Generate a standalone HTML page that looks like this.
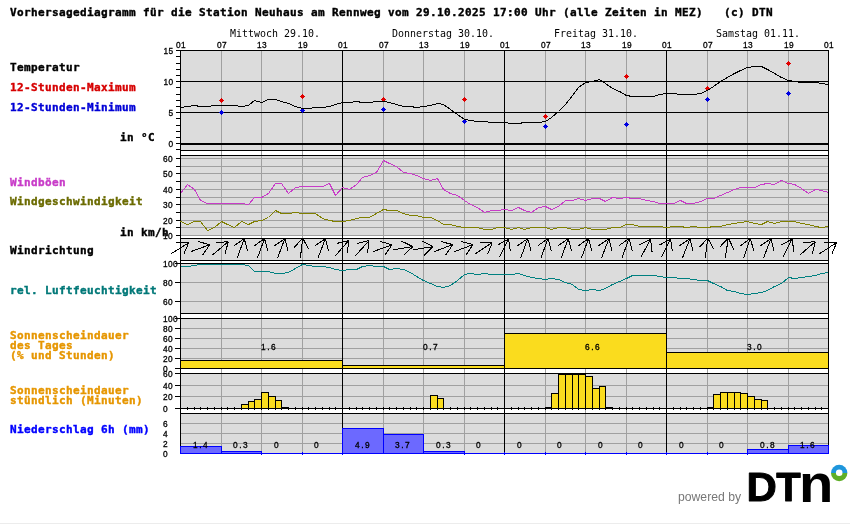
<!DOCTYPE html>
<html lang="de"><head><meta charset="utf-8"><title>Vorhersagediagramm Neuhaus am Rennweg</title>
<style>
html,body{margin:0;padding:0;background:#fff;}
body{width:850px;height:524px;overflow:hidden;position:relative;}
svg{display:block;position:absolute;left:0;top:0;}
.b{font-family:"DejaVu Sans Mono","Liberation Mono",monospace;font-weight:bold;font-size:11px;letter-spacing:0.3775px;white-space:pre;stroke-width:0.4px;}
.m{font-family:"DejaVu Sans Mono","Liberation Mono",monospace;font-size:9.966px;white-space:pre;fill:#000;}
.t{font-family:"Liberation Sans","DejaVu Sans",sans-serif;font-size:8.3px;white-space:pre;fill:#000;stroke:#000;stroke-width:0.3px;}
.pw{font-family:"Liberation Sans","DejaVu Sans",sans-serif;font-size:12.2px;fill:#777;}
.lg{font-family:"Liberation Sans","DejaVu Sans",sans-serif;font-weight:bold;fill:#000;}
</style></head><body>
<svg width="850" height="524" viewBox="0 0 850 524">
<rect x="0" y="0" width="850" height="524" fill="#fff"/>
<g shape-rendering="crispEdges">
<rect x="181" y="51" width="647" height="99" fill="#dcdcdc"/>
<rect x="181" y="156" width="647" height="80" fill="#dcdcdc"/>
<rect x="181" y="239" width="647" height="21" fill="#dcdcdc"/>
<rect x="181" y="264" width="647" height="49" fill="#dcdcdc"/>
<rect x="181" y="319" width="647" height="49" fill="#dcdcdc"/>
<rect x="181" y="374" width="647" height="34" fill="#dcdcdc"/>
<rect x="181" y="414" width="647" height="39" fill="#dcdcdc"/>
<rect x="181" y="158" width="647" height="1" fill="#a0a0a0"/>
<rect x="181" y="166" width="647" height="1" fill="#a0a0a0"/>
<rect x="181" y="173" width="647" height="1" fill="#a0a0a0"/>
<rect x="181" y="181" width="647" height="1" fill="#a0a0a0"/>
<rect x="181" y="189" width="647" height="1" fill="#a0a0a0"/>
<rect x="181" y="197" width="647" height="1" fill="#a0a0a0"/>
<rect x="181" y="204" width="647" height="1" fill="#a0a0a0"/>
<rect x="181" y="212" width="647" height="1" fill="#a0a0a0"/>
<rect x="181" y="220" width="647" height="1" fill="#a0a0a0"/>
<rect x="181" y="227" width="647" height="1" fill="#a0a0a0"/>
<rect x="181" y="235" width="647" height="1" fill="#a0a0a0"/>
<rect x="181" y="282" width="647" height="1" fill="#a0a0a0"/>
<rect x="181" y="301" width="647" height="1" fill="#a0a0a0"/>
<rect x="181" y="328" width="647" height="1" fill="#a0a0a0"/>
<rect x="181" y="338" width="647" height="1" fill="#a0a0a0"/>
<rect x="181" y="348" width="647" height="1" fill="#a0a0a0"/>
<rect x="181" y="358" width="647" height="1" fill="#a0a0a0"/>
<rect x="181" y="385" width="647" height="1" fill="#a0a0a0"/>
<rect x="181" y="396" width="647" height="1" fill="#a0a0a0"/>
<rect x="181" y="423" width="647" height="1" fill="#a0a0a0"/>
<rect x="181" y="433" width="647" height="1" fill="#a0a0a0"/>
<rect x="181" y="443" width="647" height="1" fill="#a0a0a0"/>
<rect x="221" y="50" width="1" height="404" fill="#a0a0a0"/>
<rect x="261" y="50" width="1" height="404" fill="#a0a0a0"/>
<rect x="302" y="50" width="1" height="404" fill="#a0a0a0"/>
<rect x="383" y="50" width="1" height="404" fill="#a0a0a0"/>
<rect x="423" y="50" width="1" height="404" fill="#a0a0a0"/>
<rect x="464" y="50" width="1" height="404" fill="#a0a0a0"/>
<rect x="545" y="50" width="1" height="404" fill="#a0a0a0"/>
<rect x="585" y="50" width="1" height="404" fill="#a0a0a0"/>
<rect x="626" y="50" width="1" height="404" fill="#a0a0a0"/>
<rect x="707" y="50" width="1" height="404" fill="#a0a0a0"/>
<rect x="747" y="50" width="1" height="404" fill="#a0a0a0"/>
<rect x="788" y="50" width="1" height="404" fill="#a0a0a0"/>
<rect x="180" y="50" width="649" height="1" fill="#000"/>
<rect x="180" y="81" width="649" height="1" fill="#000"/>
<rect x="180" y="112" width="649" height="1" fill="#000"/>
<rect x="180" y="150" width="649" height="1" fill="#000"/>
<rect x="180" y="155" width="649" height="1" fill="#000"/>
<rect x="180" y="238" width="649" height="1" fill="#000"/>
<rect x="180" y="260" width="649" height="1" fill="#000"/>
<rect x="180" y="263" width="649" height="1" fill="#000"/>
<rect x="180" y="313" width="649" height="1" fill="#000"/>
<rect x="180" y="318" width="649" height="1" fill="#000"/>
<rect x="180" y="368" width="649" height="1" fill="#000"/>
<rect x="180" y="373" width="649" height="1" fill="#000"/>
<rect x="180" y="408" width="649" height="1" fill="#000"/>
<rect x="180" y="413" width="649" height="1" fill="#000"/>
<rect x="180" y="143" width="649" height="2" fill="#000"/>
<rect x="180" y="50" width="1" height="404" fill="#000"/>
<rect x="342" y="50" width="1" height="404" fill="#000"/>
<rect x="504" y="50" width="1" height="404" fill="#000"/>
<rect x="666" y="50" width="1" height="404" fill="#000"/>
<rect x="828" y="50" width="1" height="404" fill="#000"/>
<rect x="176" y="149" width="4" height="1" fill="#000"/>
<rect x="176" y="143" width="4" height="1" fill="#000"/>
<rect x="176" y="137" width="4" height="1" fill="#000"/>
<rect x="176" y="131" width="4" height="1" fill="#000"/>
<rect x="176" y="125" width="4" height="1" fill="#000"/>
<rect x="176" y="118" width="4" height="1" fill="#000"/>
<rect x="176" y="112" width="4" height="1" fill="#000"/>
<rect x="176" y="106" width="4" height="1" fill="#000"/>
<rect x="176" y="100" width="4" height="1" fill="#000"/>
<rect x="176" y="94" width="4" height="1" fill="#000"/>
<rect x="176" y="87" width="4" height="1" fill="#000"/>
<rect x="176" y="81" width="4" height="1" fill="#000"/>
<rect x="176" y="75" width="4" height="1" fill="#000"/>
<rect x="176" y="69" width="4" height="1" fill="#000"/>
<rect x="176" y="63" width="4" height="1" fill="#000"/>
<rect x="176" y="56" width="4" height="1" fill="#000"/>
<rect x="176" y="50" width="4" height="1" fill="#000"/>
<rect x="176" y="158" width="4" height="1" fill="#000"/>
<rect x="176" y="166" width="4" height="1" fill="#000"/>
<rect x="176" y="173" width="4" height="1" fill="#000"/>
<rect x="176" y="181" width="4" height="1" fill="#000"/>
<rect x="176" y="189" width="4" height="1" fill="#000"/>
<rect x="176" y="197" width="4" height="1" fill="#000"/>
<rect x="176" y="204" width="4" height="1" fill="#000"/>
<rect x="176" y="212" width="4" height="1" fill="#000"/>
<rect x="176" y="220" width="4" height="1" fill="#000"/>
<rect x="176" y="227" width="4" height="1" fill="#000"/>
<rect x="176" y="235" width="4" height="1" fill="#000"/>
<rect x="175" y="263" width="5" height="1" fill="#000"/>
<rect x="175" y="282" width="5" height="1" fill="#000"/>
<rect x="175" y="301" width="5" height="1" fill="#000"/>
<rect x="175" y="318" width="5" height="1" fill="#000"/>
<rect x="175" y="328" width="5" height="1" fill="#000"/>
<rect x="175" y="338" width="5" height="1" fill="#000"/>
<rect x="175" y="348" width="5" height="1" fill="#000"/>
<rect x="175" y="358" width="5" height="1" fill="#000"/>
<rect x="175" y="368" width="5" height="1" fill="#000"/>
<rect x="175" y="373" width="5" height="1" fill="#000"/>
<rect x="175" y="385" width="5" height="1" fill="#000"/>
<rect x="175" y="396" width="5" height="1" fill="#000"/>
<rect x="175" y="408" width="5" height="1" fill="#000"/>
<rect x="187" y="407" width="1" height="3" fill="#000"/>
<rect x="194" y="407" width="1" height="3" fill="#000"/>
<rect x="200" y="407" width="1" height="3" fill="#000"/>
<rect x="207" y="407" width="1" height="3" fill="#000"/>
<rect x="214" y="407" width="1" height="3" fill="#000"/>
<rect x="221" y="407" width="1" height="3" fill="#000"/>
<rect x="227" y="407" width="1" height="3" fill="#000"/>
<rect x="234" y="407" width="1" height="3" fill="#000"/>
<rect x="241" y="407" width="1" height="3" fill="#000"/>
<rect x="248" y="407" width="1" height="3" fill="#000"/>
<rect x="254" y="407" width="1" height="3" fill="#000"/>
<rect x="261" y="407" width="1" height="3" fill="#000"/>
<rect x="268" y="407" width="1" height="3" fill="#000"/>
<rect x="275" y="407" width="1" height="3" fill="#000"/>
<rect x="281" y="407" width="1" height="3" fill="#000"/>
<rect x="288" y="407" width="1" height="3" fill="#000"/>
<rect x="295" y="407" width="1" height="3" fill="#000"/>
<rect x="302" y="407" width="1" height="3" fill="#000"/>
<rect x="308" y="407" width="1" height="3" fill="#000"/>
<rect x="315" y="407" width="1" height="3" fill="#000"/>
<rect x="322" y="407" width="1" height="3" fill="#000"/>
<rect x="329" y="407" width="1" height="3" fill="#000"/>
<rect x="335" y="407" width="1" height="3" fill="#000"/>
<rect x="342" y="407" width="1" height="3" fill="#000"/>
<rect x="349" y="407" width="1" height="3" fill="#000"/>
<rect x="356" y="407" width="1" height="3" fill="#000"/>
<rect x="362" y="407" width="1" height="3" fill="#000"/>
<rect x="369" y="407" width="1" height="3" fill="#000"/>
<rect x="376" y="407" width="1" height="3" fill="#000"/>
<rect x="383" y="407" width="1" height="3" fill="#000"/>
<rect x="389" y="407" width="1" height="3" fill="#000"/>
<rect x="396" y="407" width="1" height="3" fill="#000"/>
<rect x="403" y="407" width="1" height="3" fill="#000"/>
<rect x="410" y="407" width="1" height="3" fill="#000"/>
<rect x="416" y="407" width="1" height="3" fill="#000"/>
<rect x="423" y="407" width="1" height="3" fill="#000"/>
<rect x="430" y="407" width="1" height="3" fill="#000"/>
<rect x="437" y="407" width="1" height="3" fill="#000"/>
<rect x="443" y="407" width="1" height="3" fill="#000"/>
<rect x="450" y="407" width="1" height="3" fill="#000"/>
<rect x="457" y="407" width="1" height="3" fill="#000"/>
<rect x="464" y="407" width="1" height="3" fill="#000"/>
<rect x="470" y="407" width="1" height="3" fill="#000"/>
<rect x="477" y="407" width="1" height="3" fill="#000"/>
<rect x="484" y="407" width="1" height="3" fill="#000"/>
<rect x="491" y="407" width="1" height="3" fill="#000"/>
<rect x="497" y="407" width="1" height="3" fill="#000"/>
<rect x="504" y="407" width="1" height="3" fill="#000"/>
<rect x="511" y="407" width="1" height="3" fill="#000"/>
<rect x="518" y="407" width="1" height="3" fill="#000"/>
<rect x="524" y="407" width="1" height="3" fill="#000"/>
<rect x="531" y="407" width="1" height="3" fill="#000"/>
<rect x="538" y="407" width="1" height="3" fill="#000"/>
<rect x="545" y="407" width="1" height="3" fill="#000"/>
<rect x="551" y="407" width="1" height="3" fill="#000"/>
<rect x="558" y="407" width="1" height="3" fill="#000"/>
<rect x="565" y="407" width="1" height="3" fill="#000"/>
<rect x="572" y="407" width="1" height="3" fill="#000"/>
<rect x="578" y="407" width="1" height="3" fill="#000"/>
<rect x="585" y="407" width="1" height="3" fill="#000"/>
<rect x="592" y="407" width="1" height="3" fill="#000"/>
<rect x="599" y="407" width="1" height="3" fill="#000"/>
<rect x="605" y="407" width="1" height="3" fill="#000"/>
<rect x="612" y="407" width="1" height="3" fill="#000"/>
<rect x="619" y="407" width="1" height="3" fill="#000"/>
<rect x="626" y="407" width="1" height="3" fill="#000"/>
<rect x="632" y="407" width="1" height="3" fill="#000"/>
<rect x="639" y="407" width="1" height="3" fill="#000"/>
<rect x="646" y="407" width="1" height="3" fill="#000"/>
<rect x="653" y="407" width="1" height="3" fill="#000"/>
<rect x="659" y="407" width="1" height="3" fill="#000"/>
<rect x="666" y="407" width="1" height="3" fill="#000"/>
<rect x="673" y="407" width="1" height="3" fill="#000"/>
<rect x="680" y="407" width="1" height="3" fill="#000"/>
<rect x="686" y="407" width="1" height="3" fill="#000"/>
<rect x="693" y="407" width="1" height="3" fill="#000"/>
<rect x="700" y="407" width="1" height="3" fill="#000"/>
<rect x="707" y="407" width="1" height="3" fill="#000"/>
<rect x="713" y="407" width="1" height="3" fill="#000"/>
<rect x="720" y="407" width="1" height="3" fill="#000"/>
<rect x="727" y="407" width="1" height="3" fill="#000"/>
<rect x="734" y="407" width="1" height="3" fill="#000"/>
<rect x="740" y="407" width="1" height="3" fill="#000"/>
<rect x="747" y="407" width="1" height="3" fill="#000"/>
<rect x="754" y="407" width="1" height="3" fill="#000"/>
<rect x="761" y="407" width="1" height="3" fill="#000"/>
<rect x="767" y="407" width="1" height="3" fill="#000"/>
<rect x="774" y="407" width="1" height="3" fill="#000"/>
<rect x="781" y="407" width="1" height="3" fill="#000"/>
<rect x="788" y="407" width="1" height="3" fill="#000"/>
<rect x="794" y="407" width="1" height="3" fill="#000"/>
<rect x="801" y="407" width="1" height="3" fill="#000"/>
<rect x="808" y="407" width="1" height="3" fill="#000"/>
<rect x="815" y="407" width="1" height="3" fill="#000"/>
<rect x="821" y="407" width="1" height="3" fill="#000"/>
<rect x="221" y="98" width="1" height="1" fill="#e00000"/>
<rect x="220" y="99" width="3" height="1" fill="#e00000"/>
<rect x="219" y="100" width="5" height="1" fill="#e00000"/>
<rect x="220" y="101" width="3" height="1" fill="#e00000"/>
<rect x="221" y="102" width="1" height="1" fill="#e00000"/>
<rect x="221" y="110" width="1" height="1" fill="#0000e0"/>
<rect x="220" y="111" width="3" height="1" fill="#0000e0"/>
<rect x="219" y="112" width="5" height="1" fill="#0000e0"/>
<rect x="220" y="113" width="3" height="1" fill="#0000e0"/>
<rect x="221" y="114" width="1" height="1" fill="#0000e0"/>
<rect x="302" y="94" width="1" height="1" fill="#e00000"/>
<rect x="301" y="95" width="3" height="1" fill="#e00000"/>
<rect x="300" y="96" width="5" height="1" fill="#e00000"/>
<rect x="301" y="97" width="3" height="1" fill="#e00000"/>
<rect x="302" y="98" width="1" height="1" fill="#e00000"/>
<rect x="302" y="108" width="1" height="1" fill="#0000e0"/>
<rect x="301" y="109" width="3" height="1" fill="#0000e0"/>
<rect x="300" y="110" width="5" height="1" fill="#0000e0"/>
<rect x="301" y="111" width="3" height="1" fill="#0000e0"/>
<rect x="302" y="112" width="1" height="1" fill="#0000e0"/>
<rect x="383" y="97" width="1" height="1" fill="#e00000"/>
<rect x="382" y="98" width="3" height="1" fill="#e00000"/>
<rect x="381" y="99" width="5" height="1" fill="#e00000"/>
<rect x="382" y="100" width="3" height="1" fill="#e00000"/>
<rect x="383" y="101" width="1" height="1" fill="#e00000"/>
<rect x="383" y="107" width="1" height="1" fill="#0000e0"/>
<rect x="382" y="108" width="3" height="1" fill="#0000e0"/>
<rect x="381" y="109" width="5" height="1" fill="#0000e0"/>
<rect x="382" y="110" width="3" height="1" fill="#0000e0"/>
<rect x="383" y="111" width="1" height="1" fill="#0000e0"/>
<rect x="464" y="97" width="1" height="1" fill="#e00000"/>
<rect x="463" y="98" width="3" height="1" fill="#e00000"/>
<rect x="462" y="99" width="5" height="1" fill="#e00000"/>
<rect x="463" y="100" width="3" height="1" fill="#e00000"/>
<rect x="464" y="101" width="1" height="1" fill="#e00000"/>
<rect x="464" y="119" width="1" height="1" fill="#0000e0"/>
<rect x="463" y="120" width="3" height="1" fill="#0000e0"/>
<rect x="462" y="121" width="5" height="1" fill="#0000e0"/>
<rect x="463" y="122" width="3" height="1" fill="#0000e0"/>
<rect x="464" y="123" width="1" height="1" fill="#0000e0"/>
<rect x="545" y="114" width="1" height="1" fill="#e00000"/>
<rect x="544" y="115" width="3" height="1" fill="#e00000"/>
<rect x="543" y="116" width="5" height="1" fill="#e00000"/>
<rect x="544" y="117" width="3" height="1" fill="#e00000"/>
<rect x="545" y="118" width="1" height="1" fill="#e00000"/>
<rect x="545" y="124" width="1" height="1" fill="#0000e0"/>
<rect x="544" y="125" width="3" height="1" fill="#0000e0"/>
<rect x="543" y="126" width="5" height="1" fill="#0000e0"/>
<rect x="544" y="127" width="3" height="1" fill="#0000e0"/>
<rect x="545" y="128" width="1" height="1" fill="#0000e0"/>
<rect x="626" y="74" width="1" height="1" fill="#e00000"/>
<rect x="625" y="75" width="3" height="1" fill="#e00000"/>
<rect x="624" y="76" width="5" height="1" fill="#e00000"/>
<rect x="625" y="77" width="3" height="1" fill="#e00000"/>
<rect x="626" y="78" width="1" height="1" fill="#e00000"/>
<rect x="626" y="122" width="1" height="1" fill="#0000e0"/>
<rect x="625" y="123" width="3" height="1" fill="#0000e0"/>
<rect x="624" y="124" width="5" height="1" fill="#0000e0"/>
<rect x="625" y="125" width="3" height="1" fill="#0000e0"/>
<rect x="626" y="126" width="1" height="1" fill="#0000e0"/>
<rect x="707" y="86" width="1" height="1" fill="#e00000"/>
<rect x="706" y="87" width="3" height="1" fill="#e00000"/>
<rect x="705" y="88" width="5" height="1" fill="#e00000"/>
<rect x="706" y="89" width="3" height="1" fill="#e00000"/>
<rect x="707" y="90" width="1" height="1" fill="#e00000"/>
<rect x="707" y="97" width="1" height="1" fill="#0000e0"/>
<rect x="706" y="98" width="3" height="1" fill="#0000e0"/>
<rect x="705" y="99" width="5" height="1" fill="#0000e0"/>
<rect x="706" y="100" width="3" height="1" fill="#0000e0"/>
<rect x="707" y="101" width="1" height="1" fill="#0000e0"/>
<rect x="788" y="61" width="1" height="1" fill="#e00000"/>
<rect x="787" y="62" width="3" height="1" fill="#e00000"/>
<rect x="786" y="63" width="5" height="1" fill="#e00000"/>
<rect x="787" y="64" width="3" height="1" fill="#e00000"/>
<rect x="788" y="65" width="1" height="1" fill="#e00000"/>
<rect x="788" y="91" width="1" height="1" fill="#0000e0"/>
<rect x="787" y="92" width="3" height="1" fill="#0000e0"/>
<rect x="786" y="93" width="5" height="1" fill="#0000e0"/>
<rect x="787" y="94" width="3" height="1" fill="#0000e0"/>
<rect x="788" y="95" width="1" height="1" fill="#0000e0"/>
<polyline points="180.5,107.5 187.5,106.5 194.5,105.5 200.5,106.5 207.5,106.5 214.5,105.5 221.5,105.5 227.5,105.5 234.5,105.5 241.5,106.5 248.5,105.5 254.5,100.5 261.5,102.5 268.5,99.5 275.5,99.5 281.5,101.5 288.5,103.5 295.5,106.5 302.5,108.5 308.5,108.5 315.5,107.5 322.5,107.5 329.5,106.5 335.5,104.5 342.5,102.5 349.5,102.5 356.5,101.5 362.5,102.5 369.5,102.5 376.5,101.5 383.5,101.5 389.5,102.5 396.5,104.5 403.5,106.5 410.5,106.5 416.5,107.5 423.5,106.5 430.5,105.5 437.5,103.5 443.5,104.5 450.5,109.5 457.5,114.5 464.5,119.5 470.5,120.5 477.5,121.5 484.5,121.5 491.5,122.5 497.5,122.5 504.5,122.5 511.5,123.5 518.5,123.5 524.5,122.5 531.5,122.5 538.5,122.5 545.5,121.5 551.5,117.5 558.5,111.5 565.5,104.5 572.5,95.5 578.5,87.5 585.5,82.5 592.5,81.5 599.5,79.5 605.5,83.5 612.5,88.5 619.5,91.5 626.5,95.5 632.5,96.5 639.5,96.5 646.5,96.5 653.5,96.5 659.5,94.5 666.5,93.5 673.5,93.5 680.5,94.5 686.5,94.5 693.5,94.5 700.5,93.5 707.5,90.5 713.5,86.5 720.5,81.5 727.5,77.5 734.5,73.5 740.5,70.5 747.5,67.5 754.5,66.5 761.5,66.5 767.5,69.5 774.5,73.5 781.5,77.5 788.5,80.5 794.5,81.5 801.5,82.5 808.5,82.5 815.5,82.5 821.5,83.5 828.5,84.5" fill="none" stroke="#000" stroke-width="1"/>
<polyline points="180.5,193.5 187.5,184.5 194.5,189.5 200.5,200.5 207.5,203.5 214.5,203.5 221.5,203.5 227.5,203.5 234.5,203.5 241.5,203.5 248.5,204.5 254.5,197.5 261.5,197.5 268.5,193.5 275.5,183.5 281.5,183.5 288.5,193.5 295.5,187.5 302.5,186.5 308.5,186.5 315.5,186.5 322.5,186.5 329.5,183.5 335.5,195.5 342.5,187.5 349.5,189.5 356.5,184.5 362.5,177.5 369.5,175.5 376.5,172.5 383.5,160.5 389.5,163.5 396.5,166.5 403.5,172.5 410.5,173.5 416.5,175.5 423.5,178.5 430.5,180.5 437.5,178.5 443.5,189.5 450.5,193.5 457.5,195.5 464.5,200.5 470.5,204.5 477.5,207.5 484.5,212.5 491.5,210.5 497.5,210.5 504.5,209.5 511.5,210.5 518.5,207.5 524.5,210.5 531.5,212.5 538.5,207.5 545.5,206.5 551.5,209.5 558.5,206.5 565.5,200.5 572.5,200.5 578.5,198.5 585.5,200.5 592.5,198.5 599.5,198.5 605.5,201.5 612.5,197.5 619.5,198.5 626.5,197.5 632.5,198.5 639.5,198.5 646.5,200.5 653.5,201.5 659.5,203.5 666.5,203.5 673.5,203.5 680.5,200.5 686.5,203.5 693.5,203.5 700.5,201.5 707.5,198.5 713.5,198.5 720.5,195.5 727.5,192.5 734.5,189.5 740.5,187.5 747.5,187.5 754.5,187.5 761.5,184.5 767.5,183.5 774.5,184.5 781.5,180.5 788.5,183.5 794.5,184.5 801.5,188.5 808.5,193.5 815.5,189.5 821.5,190.5 828.5,192.5" fill="none" stroke="#c83cc8" stroke-width="1"/>
<polyline points="180.5,221.5 187.5,224.5 194.5,221.5 200.5,221.5 207.5,230.5 214.5,227.5 221.5,221.5 227.5,224.5 234.5,227.5 241.5,221.5 248.5,224.5 254.5,221.5 261.5,220.5 268.5,217.5 275.5,210.5 281.5,213.5 288.5,213.5 295.5,212.5 302.5,213.5 308.5,213.5 315.5,213.5 322.5,218.5 329.5,220.5 335.5,221.5 342.5,221.5 349.5,220.5 356.5,218.5 362.5,217.5 369.5,217.5 376.5,213.5 383.5,209.5 389.5,210.5 396.5,210.5 403.5,213.5 410.5,215.5 416.5,215.5 423.5,217.5 430.5,217.5 437.5,220.5 443.5,224.5 450.5,224.5 457.5,226.5 464.5,227.5 470.5,227.5 477.5,227.5 484.5,229.5 491.5,229.5 497.5,227.5 504.5,227.5 511.5,229.5 518.5,227.5 524.5,229.5 531.5,227.5 538.5,227.5 545.5,227.5 551.5,229.5 558.5,227.5 565.5,227.5 572.5,229.5 578.5,229.5 585.5,227.5 592.5,229.5 599.5,229.5 605.5,229.5 612.5,227.5 619.5,227.5 626.5,224.5 632.5,224.5 639.5,226.5 646.5,226.5 653.5,226.5 659.5,226.5 666.5,227.5 673.5,226.5 680.5,226.5 686.5,227.5 693.5,226.5 700.5,227.5 707.5,227.5 713.5,226.5 720.5,226.5 727.5,224.5 734.5,223.5 740.5,222.5 747.5,221.5 754.5,223.5 761.5,224.5 767.5,221.5 774.5,223.5 781.5,221.5 788.5,221.5 794.5,221.5 801.5,223.5 808.5,224.5 815.5,226.5 821.5,227.5 828.5,226.5" fill="none" stroke="#808000" stroke-width="1"/>
<polyline points="180.5,266.5 187.5,266.5 194.5,265.5 200.5,264.5 207.5,264.5 214.5,264.5 221.5,264.5 227.5,264.5 234.5,264.5 241.5,264.5 248.5,265.5 254.5,271.5 261.5,271.5 268.5,271.5 275.5,273.5 281.5,273.5 288.5,272.5 295.5,268.5 302.5,264.5 308.5,265.5 315.5,266.5 322.5,266.5 329.5,267.5 335.5,269.5 342.5,270.5 349.5,269.5 356.5,269.5 362.5,266.5 369.5,265.5 376.5,266.5 383.5,266.5 389.5,269.5 396.5,268.5 403.5,269.5 410.5,272.5 416.5,276.5 423.5,280.5 430.5,283.5 437.5,286.5 443.5,287.5 450.5,285.5 457.5,280.5 464.5,274.5 470.5,273.5 477.5,274.5 484.5,273.5 491.5,274.5 497.5,274.5 504.5,274.5 511.5,274.5 518.5,273.5 524.5,275.5 531.5,277.5 538.5,278.5 545.5,279.5 551.5,278.5 558.5,279.5 565.5,282.5 572.5,284.5 578.5,289.5 585.5,290.5 592.5,289.5 599.5,290.5 605.5,288.5 612.5,284.5 619.5,281.5 626.5,278.5 632.5,275.5 639.5,275.5 646.5,275.5 653.5,275.5 659.5,276.5 666.5,277.5 673.5,277.5 680.5,278.5 686.5,278.5 693.5,279.5 700.5,280.5 707.5,280.5 713.5,283.5 720.5,286.5 727.5,290.5 734.5,291.5 740.5,293.5 747.5,294.5 754.5,293.5 761.5,292.5 767.5,290.5 774.5,286.5 781.5,283.5 788.5,277.5 794.5,278.5 801.5,277.5 808.5,276.5 815.5,275.5 821.5,273.5 828.5,272.5" fill="none" stroke="#008080" stroke-width="1"/>
<path d="M171.35,253.61L188.65,242.79M188.65,242.79L183.77,254.30M188.65,242.79L176.17,242.14" fill="none" stroke="#000" stroke-width="1"/>
<path d="M190.67,251.69L209.83,244.71M209.83,244.71L202.67,254.95M209.83,244.71L197.76,241.48" fill="none" stroke="#000" stroke-width="1"/>
<path d="M212.69,254.76L228.31,241.64M228.31,241.64L225.08,253.72M228.31,241.64L215.86,242.73" fill="none" stroke="#000" stroke-width="1"/>
<path d="M237.26,257.78L244.24,238.62M244.24,238.62L247.47,250.69M244.24,238.62L234.00,245.78" fill="none" stroke="#000" stroke-width="1"/>
<path d="M257.51,257.78L264.49,238.62M264.49,238.62L267.72,250.69M264.49,238.62L254.25,245.78" fill="none" stroke="#000" stroke-width="1"/>
<path d="M277.68,257.75L284.82,238.65M284.82,238.65L287.95,250.75M284.82,238.65L274.52,245.73" fill="none" stroke="#000" stroke-width="1"/>
<path d="M300.35,258.33L302.65,238.07M302.65,238.07L308.62,249.05M302.65,238.07L294.37,247.43" fill="none" stroke="#000" stroke-width="1"/>
<path d="M318.09,257.72L325.41,238.68M325.41,238.68L328.43,250.81M325.41,238.68L315.04,245.67" fill="none" stroke="#000" stroke-width="1"/>
<path d="M335.24,255.84L348.76,240.56M348.76,240.56L347.34,252.98M348.76,240.56L336.60,243.48" fill="none" stroke="#000" stroke-width="1"/>
<path d="M355.42,255.78L369.08,240.62M369.08,240.62L367.55,253.03M369.08,240.62L356.90,243.43" fill="none" stroke="#000" stroke-width="1"/>
<path d="M372.90,251.64L392.10,244.76M392.10,244.76L384.88,254.96M392.10,244.76L380.05,241.46" fill="none" stroke="#000" stroke-width="1"/>
<path d="M392.68,249.83L412.82,246.57M412.82,246.57L403.86,255.28M412.82,246.57L401.56,241.13" fill="none" stroke="#000" stroke-width="1"/>
<path d="M412.91,249.71L433.09,246.69M433.09,246.69L424.02,255.30M433.09,246.69L421.90,241.11" fill="none" stroke="#000" stroke-width="1"/>
<path d="M433.71,251.81L452.79,244.59M452.79,244.59L445.75,254.92M452.79,244.59L440.68,241.51" fill="none" stroke="#000" stroke-width="1"/>
<path d="M453.96,251.81L473.04,244.59M473.04,244.59L466.00,254.92M473.04,244.59L460.93,241.51" fill="none" stroke="#000" stroke-width="1"/>
<path d="M475.25,253.84L492.25,242.56M492.25,242.56L487.68,254.19M492.25,242.56L479.75,242.25" fill="none" stroke="#000" stroke-width="1"/>
<path d="M499.53,257.37L508.47,239.03M508.47,239.03L510.43,251.38M508.47,239.03L497.54,245.09" fill="none" stroke="#000" stroke-width="1"/>
<path d="M520.76,257.78L527.74,238.62M527.74,238.62L530.97,250.69M527.74,238.62L517.50,245.78" fill="none" stroke="#000" stroke-width="1"/>
<path d="M541.01,257.78L547.99,238.62M547.99,238.62L551.22,250.69M547.99,238.62L537.75,245.78" fill="none" stroke="#000" stroke-width="1"/>
<path d="M561.26,257.78L568.24,238.62M568.24,238.62L571.47,250.69M568.24,238.62L558.00,245.78" fill="none" stroke="#000" stroke-width="1"/>
<path d="M581.51,257.78L588.49,238.62M588.49,238.62L591.72,250.69M588.49,238.62L578.25,245.78" fill="none" stroke="#000" stroke-width="1"/>
<path d="M601.59,257.72L608.91,238.68M608.91,238.68L611.93,250.81M608.91,238.68L598.54,245.67" fill="none" stroke="#000" stroke-width="1"/>
<path d="M622.01,257.78L628.99,238.62M628.99,238.62L632.22,250.69M628.99,238.62L618.75,245.78" fill="none" stroke="#000" stroke-width="1"/>
<path d="M640.90,257.17L650.60,239.23M650.60,239.23L652.04,251.64M650.60,239.23L639.42,244.82" fill="none" stroke="#000" stroke-width="1"/>
<path d="M661.37,257.29L670.63,239.11M670.63,239.11L672.37,251.49M670.63,239.11L659.59,244.98" fill="none" stroke="#000" stroke-width="1"/>
<path d="M682.53,257.70L689.97,238.70M689.97,238.70L692.91,250.85M689.97,238.70L679.56,245.62" fill="none" stroke="#000" stroke-width="1"/>
<path d="M705.26,258.32L707.74,238.08M707.74,238.08L713.61,249.11M707.74,238.08L699.38,247.37" fill="none" stroke="#000" stroke-width="1"/>
<path d="M725.15,258.27L728.35,238.13M728.35,238.13L733.83,249.36M728.35,238.13L719.66,247.12" fill="none" stroke="#000" stroke-width="1"/>
<path d="M743.76,257.87L750.24,238.53M750.24,238.53L753.79,250.51M750.24,238.53L740.19,245.96" fill="none" stroke="#000" stroke-width="1"/>
<path d="M763.59,257.72L770.91,238.68M770.91,238.68L773.93,250.81M770.91,238.68L760.54,245.67" fill="none" stroke="#000" stroke-width="1"/>
<path d="M782.87,257.29L792.13,239.11M792.13,239.11L793.87,251.49M792.13,239.11L781.09,244.98" fill="none" stroke="#000" stroke-width="1"/>
<path d="M800.05,254.89L815.45,241.51M815.45,241.51L812.42,253.64M815.45,241.51L803.02,242.81" fill="none" stroke="#000" stroke-width="1"/>
<path d="M819.45,253.76L836.55,242.64M836.55,242.64L831.87,254.23M836.55,242.64L824.06,242.21" fill="none" stroke="#000" stroke-width="1"/>
<rect x="180.5" y="360.5" width="162" height="8" fill="#fadc1e" stroke="#000" stroke-width="1"/>
<rect x="342.5" y="365.5" width="162" height="3" fill="#fadc1e" stroke="#000" stroke-width="1"/>
<rect x="504.5" y="333.5" width="162" height="35" fill="#fadc1e" stroke="#000" stroke-width="1"/>
<rect x="666.5" y="352.5" width="162" height="16" fill="#fadc1e" stroke="#000" stroke-width="1"/>
<rect x="241.5" y="404.5" width="7" height="4" fill="#fadc1e" stroke="#000" stroke-width="1"/>
<rect x="248.5" y="401.5" width="6" height="7" fill="#fadc1e" stroke="#000" stroke-width="1"/>
<rect x="254.5" y="399.5" width="7" height="9" fill="#fadc1e" stroke="#000" stroke-width="1"/>
<rect x="261.5" y="392.5" width="7" height="16" fill="#fadc1e" stroke="#000" stroke-width="1"/>
<rect x="268.5" y="396.5" width="7" height="12" fill="#fadc1e" stroke="#000" stroke-width="1"/>
<rect x="275.5" y="400.5" width="6" height="8" fill="#fadc1e" stroke="#000" stroke-width="1"/>
<rect x="281.5" y="407.5" width="7" height="1" fill="#fadc1e" stroke="#000" stroke-width="1"/>
<rect x="430.5" y="395.5" width="7" height="13" fill="#fadc1e" stroke="#000" stroke-width="1"/>
<rect x="437.5" y="398.5" width="6" height="10" fill="#fadc1e" stroke="#000" stroke-width="1"/>
<rect x="545.5" y="407.5" width="6" height="1" fill="#fadc1e" stroke="#000" stroke-width="1"/>
<rect x="551.5" y="393.5" width="7" height="15" fill="#fadc1e" stroke="#000" stroke-width="1"/>
<rect x="558.5" y="374.5" width="7" height="34" fill="#fadc1e" stroke="#000" stroke-width="1"/>
<rect x="565.5" y="374.5" width="7" height="34" fill="#fadc1e" stroke="#000" stroke-width="1"/>
<rect x="572.5" y="374.5" width="6" height="34" fill="#fadc1e" stroke="#000" stroke-width="1"/>
<rect x="578.5" y="374.5" width="7" height="34" fill="#fadc1e" stroke="#000" stroke-width="1"/>
<rect x="585.5" y="376.5" width="7" height="32" fill="#fadc1e" stroke="#000" stroke-width="1"/>
<rect x="592.5" y="388.5" width="7" height="20" fill="#fadc1e" stroke="#000" stroke-width="1"/>
<rect x="599.5" y="386.5" width="6" height="22" fill="#fadc1e" stroke="#000" stroke-width="1"/>
<rect x="605.5" y="407.5" width="7" height="1" fill="#fadc1e" stroke="#000" stroke-width="1"/>
<rect x="707.5" y="407.5" width="6" height="1" fill="#fadc1e" stroke="#000" stroke-width="1"/>
<rect x="713.5" y="394.5" width="7" height="14" fill="#fadc1e" stroke="#000" stroke-width="1"/>
<rect x="720.5" y="392.5" width="7" height="16" fill="#fadc1e" stroke="#000" stroke-width="1"/>
<rect x="727.5" y="392.5" width="7" height="16" fill="#fadc1e" stroke="#000" stroke-width="1"/>
<rect x="734.5" y="392.5" width="6" height="16" fill="#fadc1e" stroke="#000" stroke-width="1"/>
<rect x="740.5" y="393.5" width="7" height="15" fill="#fadc1e" stroke="#000" stroke-width="1"/>
<rect x="747.5" y="396.5" width="7" height="12" fill="#fadc1e" stroke="#000" stroke-width="1"/>
<rect x="754.5" y="399.5" width="7" height="9" fill="#fadc1e" stroke="#000" stroke-width="1"/>
<rect x="761.5" y="400.5" width="6" height="8" fill="#fadc1e" stroke="#000" stroke-width="1"/>
<rect x="180" y="453" width="649" height="1" fill="#0000ff"/>
<rect x="180.5" y="446.5" width="41" height="7" fill="#6c69ff" stroke="#0000ff" stroke-width="1"/>
<rect x="221.5" y="451.5" width="40" height="2" fill="#6c69ff" stroke="#0000ff" stroke-width="1"/>
<rect x="261" y="452" width="1" height="3" fill="#0000ff"/>
<rect x="302" y="452" width="1" height="3" fill="#0000ff"/>
<rect x="302" y="452" width="1" height="3" fill="#0000ff"/>
<rect x="342" y="452" width="1" height="3" fill="#0000ff"/>
<rect x="342.5" y="428.5" width="41" height="25" fill="#6c69ff" stroke="#0000ff" stroke-width="1"/>
<rect x="383.5" y="434.5" width="40" height="19" fill="#6c69ff" stroke="#0000ff" stroke-width="1"/>
<rect x="423.5" y="451.5" width="41" height="2" fill="#6c69ff" stroke="#0000ff" stroke-width="1"/>
<rect x="464" y="452" width="1" height="3" fill="#0000ff"/>
<rect x="504" y="452" width="1" height="3" fill="#0000ff"/>
<rect x="504" y="452" width="1" height="3" fill="#0000ff"/>
<rect x="545" y="452" width="1" height="3" fill="#0000ff"/>
<rect x="545" y="452" width="1" height="3" fill="#0000ff"/>
<rect x="585" y="452" width="1" height="3" fill="#0000ff"/>
<rect x="585" y="452" width="1" height="3" fill="#0000ff"/>
<rect x="626" y="452" width="1" height="3" fill="#0000ff"/>
<rect x="626" y="452" width="1" height="3" fill="#0000ff"/>
<rect x="666" y="452" width="1" height="3" fill="#0000ff"/>
<rect x="666" y="452" width="1" height="3" fill="#0000ff"/>
<rect x="707" y="452" width="1" height="3" fill="#0000ff"/>
<rect x="707" y="452" width="1" height="3" fill="#0000ff"/>
<rect x="747" y="452" width="1" height="3" fill="#0000ff"/>
<rect x="747.5" y="449.5" width="41" height="4" fill="#6c69ff" stroke="#0000ff" stroke-width="1"/>
<rect x="788.5" y="445.5" width="40" height="8" fill="#6c69ff" stroke="#0000ff" stroke-width="1"/>
</g>
<g xml:space="preserve">
<text class="b" x="10" y="16" fill="#000" stroke="#000">Vorhersagediagramm für die Station Neuhaus am Rennweg vom 29.10.2025 17:00 Uhr (alle Zeiten in MEZ)   (c) DTN</text>
<text class="b" x="10" y="71" fill="#000" stroke="#000">Temperatur</text>
<text class="b" x="10" y="91" fill="#d60000" stroke="#d60000">12-Stunden-Maximum</text>
<text class="b" x="10" y="110.5" fill="#0000d6" stroke="#0000d6">12-Stunden-Minimum</text>
<text class="b" x="120" y="141" fill="#000" stroke="#000">in °C</text>
<text class="b" x="10" y="185.5" fill="#c83cc8" stroke="#c83cc8">Windböen</text>
<text class="b" x="10" y="205" fill="#6b6b00" stroke="#6b6b00">Windgeschwindigkeit</text>
<text class="b" x="120" y="235.5" fill="#000" stroke="#000">in km/h</text>
<text class="b" x="10" y="253.5" fill="#000" stroke="#000">Windrichtung</text>
<text class="b" x="10" y="293.5" fill="#007878" stroke="#007878">rel. Luftfeuchtigkeit</text>
<text class="b" x="10" y="338.5" fill="#e69600" stroke="#e69600">Sonnenscheindauer</text>
<text class="b" x="10" y="348.5" fill="#e69600" stroke="#e69600">des Tages</text>
<text class="b" x="10" y="358.5" fill="#e69600" stroke="#e69600">(% und Stunden)</text>
<text class="b" x="10" y="394" fill="#e69600" stroke="#e69600">Sonnenscheindauer</text>
<text class="b" x="10" y="404" fill="#e69600" stroke="#e69600">stündlich (Minuten)</text>
<text class="b" x="10" y="433" fill="#0000ff" stroke="#0000ff">Niederschlag 6h (mm)</text>
<text class="m" x="230.0" y="36.5">Mittwoch 29.10.</text>
<text class="m" x="392.0" y="36.5">Donnerstag 30.10.</text>
<text class="m" x="554.0" y="36.5">Freitag 31.10.</text>
<text class="m" x="716.0" y="36.5">Samstag 01.11.</text>
<text class="t" x="176 181" y="48">01</text>
<text class="t" x="217 222" y="48">07</text>
<text class="t" x="257 262" y="48">13</text>
<text class="t" x="298 303" y="48">19</text>
<text class="t" x="338 343" y="48">01</text>
<text class="t" x="379 384" y="48">07</text>
<text class="t" x="419 424" y="48">13</text>
<text class="t" x="460 465" y="48">19</text>
<text class="t" x="500 505" y="48">01</text>
<text class="t" x="541 546" y="48">07</text>
<text class="t" x="581 586" y="48">13</text>
<text class="t" x="622 627" y="48">19</text>
<text class="t" x="662 667" y="48">01</text>
<text class="t" x="703 708" y="48">07</text>
<text class="t" x="743 748" y="48">13</text>
<text class="t" x="784 789" y="48">19</text>
<text class="t" x="824 829" y="48">01</text>
<text class="t" x="163.5 168.5" y="54">15</text>
<text class="t" x="163.5 168.5" y="85">10</text>
<text class="t" x="168.5" y="116">5</text>
<text class="t" x="168.5" y="147">0</text>
<text class="t" x="163 168" y="162">60</text>
<text class="t" x="163 168" y="177">50</text>
<text class="t" x="163 168" y="193">40</text>
<text class="t" x="163 168" y="208">30</text>
<text class="t" x="163 168" y="224">20</text>
<text class="t" x="163 168" y="239">10</text>
<text class="t" x="163 168 173" y="267">100</text>
<text class="t" x="163 168" y="286">80</text>
<text class="t" x="163 168" y="305">60</text>
<text class="t" x="163 168 173" y="322">100</text>
<text class="t" x="163 168" y="332">80</text>
<text class="t" x="163 168" y="342">60</text>
<text class="t" x="163 168" y="352">40</text>
<text class="t" x="163 168" y="362">20</text>
<text class="t" x="163" y="372">0</text>
<text class="t" x="163 168" y="377">60</text>
<text class="t" x="163 168" y="389">40</text>
<text class="t" x="163 168" y="400">20</text>
<text class="t" x="163" y="412">0</text>
<text class="t" x="163" y="427">6</text>
<text class="t" x="163" y="437">4</text>
<text class="t" x="163" y="447">2</text>
<text class="t" x="163" y="457">0</text>
<text class="t" x="261 267.3 271" y="350">1.6</text>
<text class="t" x="423 429.3 433" y="350">0.7</text>
<text class="t" x="585 591.3 595" y="350">6.6</text>
<text class="t" x="747 753.3 757" y="350">3.0</text>
<text class="t" x="193 199.3 203" y="448">1.4</text>
<text class="t" x="233 239.3 243" y="448">0.3</text>
<text class="t" x="274" y="448">0</text>
<text class="t" x="314" y="448">0</text>
<text class="t" x="355 361.3 365" y="448">4.9</text>
<text class="t" x="395 401.3 405" y="448">3.7</text>
<text class="t" x="436 442.3 446" y="448">0.3</text>
<text class="t" x="476" y="448">0</text>
<text class="t" x="517" y="448">0</text>
<text class="t" x="557" y="448">0</text>
<text class="t" x="598" y="448">0</text>
<text class="t" x="638" y="448">0</text>
<text class="t" x="679" y="448">0</text>
<text class="t" x="719" y="448">0</text>
<text class="t" x="760 766.3 770" y="448">0.8</text>
<text class="t" x="800 806.3 810" y="448">1.6</text>
</g>
<rect x="0" y="523" width="850" height="1" fill="#ececec"/>
<text class="pw" x="678" y="501">powered by</text>
<text class="lg" transform="translate(746.56,501.1) scale(0.4197,0.4043)" font-size="100" stroke="#000" stroke-width="2.4" stroke-linejoin="round">D</text>
<text class="lg" transform="translate(776.3,501.1) scale(0.4,0.4043)" font-size="100" stroke="#000" stroke-width="2.4" stroke-linejoin="round">T</text>
<text class="lg" transform="translate(799.06,501.6) scale(0.5625,0.535)" font-size="100">n</text>
<path d="M831,473 A8.2,8.2 0 0 1 847.4,473 Z" fill="#1e96dc"/>
<path d="M831,473 A8.2,8.2 0 0 0 847.4,473 Z" fill="#5fae28"/>
<circle cx="839.2" cy="472.8" r="3.3" fill="#fff"/>
</svg>
</body></html>
